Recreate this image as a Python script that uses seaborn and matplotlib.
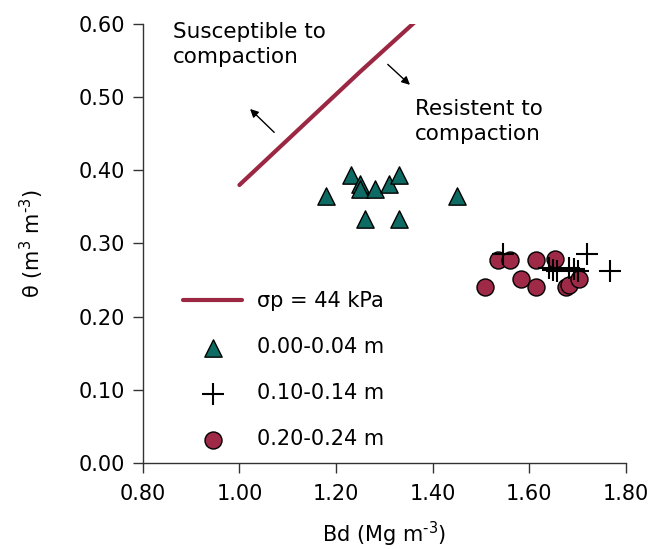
import matplotlib
matplotlib.use("Agg")
import matplotlib.pyplot as plt
import seaborn as sns
import pandas as pd

# Critical water content curve for a precompression stress of 44 kPa
curve_bd = [1.00, 1.05, 1.10, 1.15, 1.20, 1.25, 1.30, 1.35, 1.40]
curve_theta = [0.380, 0.411, 0.442, 0.473, 0.504, 0.535, 0.565, 0.595, 0.625]

# Layer 0.00-0.04 m
bd_top = [1.18, 1.23, 1.25, 1.25, 1.28, 1.31, 1.33, 1.26, 1.33, 1.45]
theta_top = [0.365, 0.393, 0.381, 0.375, 0.375, 0.381, 0.393, 0.333, 0.333, 0.365]

# Layer 0.10-0.14 m
bd_mid = [1.545, 1.64, 1.65, 1.658, 1.683, 1.692, 1.701, 1.72, 1.767]
theta_mid = [0.285, 0.266, 0.264, 0.262, 0.266, 0.265, 0.262, 0.285, 0.263]

# Layer 0.20-0.24 m
bd_deep = [1.536, 1.56, 1.613, 1.653, 1.508, 1.582, 1.613, 1.677, 1.682, 1.703]
theta_deep = [0.278, 0.278, 0.278, 0.279, 0.240, 0.252, 0.240, 0.240, 0.243, 0.252]

x_ticks = [0.80, 1.00, 1.20, 1.40, 1.60, 1.80]
y_ticks = [0.00, 0.10, 0.20, 0.30, 0.40, 0.50, 0.60]

sns.set_style("ticks")
plt.rcParams["font.family"] = ["DejaVu Sans"]
plt.rcParams["text.color"] = "black"
plt.rcParams["axes.labelcolor"] = "black"
plt.rcParams["xtick.labelcolor"] = "black"
plt.rcParams["ytick.labelcolor"] = "black"

line_color = "#9b2743"
tri_color = "#0e6b63"
circ_color = "#9e2a47"
axis_color = "#333333"

fig = plt.figure(figsize=(6.52, 5.49), dpi=100)
ax = fig.add_axes([0.219, 0.157, 0.741, 0.799])

curve = pd.DataFrame({"Bd": curve_bd, "theta": curve_theta})
sns.lineplot(data=curve, x="Bd", y="theta", ax=ax, color=line_color,
             linewidth=3.0, label="σp = 44 kPa", sort=False)

top = pd.DataFrame({"Bd": bd_top, "theta": theta_top})
sns.scatterplot(data=top, x="Bd", y="theta", ax=ax, marker="^", s=155,
                color=tri_color, edgecolor="black", linewidth=1.0,
                label="0.00-0.04 m", zorder=3)

mid = pd.DataFrame({"Bd": bd_mid, "theta": theta_mid})
sns.scatterplot(data=mid, x="Bd", y="theta", ax=ax, marker="+", s=230,
                color="black", linewidth=1.5, label="0.10-0.14 m", zorder=4)

deep = pd.DataFrame({"Bd": bd_deep, "theta": theta_deep})
sns.scatterplot(data=deep, x="Bd", y="theta", ax=ax, marker="o", s=150,
                color=circ_color, edgecolor="black", linewidth=1.0,
                label="0.20-0.24 m", zorder=3)

ax.set_xlim(0.80, 1.80)
ax.set_ylim(0.00, 0.60)
ax.set_xticks(x_ticks)
ax.set_yticks(y_ticks)
ax.set_xticklabels([f"{v:.2f}" for v in x_ticks])
ax.set_yticklabels([f"{v:.2f}" for v in y_ticks])
ax.tick_params(axis="both", labelsize=15, length=7.5, width=1.0,
               color=axis_color, direction="out")
ax.tick_params(axis="x", pad=8)
ax.tick_params(axis="y", pad=5)
for side in ("left", "bottom"):
    ax.spines[side].set_color(axis_color)
    ax.spines[side].set_linewidth(1.0)
sns.despine(ax=ax)

ax.set_xlabel(r"Bd (Mg m$^{\text{-}3}$)", fontsize=15, labelpad=11)
ax.set_ylabel(r"θ (m$^{3}$ m$^{\text{-}3}$)", fontsize=15, labelpad=24)

ax.text(0.862, 0.603, "Susceptible to\ncompaction", fontsize=15.5,
        va="top", ha="left", linespacing=1.3)
ax.text(1.363, 0.497, "Resistent to\ncompaction", fontsize=15.5,
        va="top", ha="left", linespacing=1.3)

ax.annotate("", xy=(1.022, 0.484), xytext=(1.072, 0.452),
            arrowprops=dict(arrowstyle="-|>", color="black", lw=1.0,
                            mutation_scale=12, shrinkA=0, shrinkB=0))
ax.annotate("", xy=(1.353, 0.517), xytext=(1.307, 0.545),
            arrowprops=dict(arrowstyle="-|>", color="black", lw=1.0,
                            mutation_scale=12, shrinkA=0, shrinkB=0))

ax.legend(loc="upper left", bbox_to_anchor=(0.083, 0.391), frameon=False,
          fontsize=15, borderpad=0, borderaxespad=0, labelspacing=1.25,
          handlelength=2.85, handletextpad=0.7)

fig.savefig("out.png", dpi=100)
